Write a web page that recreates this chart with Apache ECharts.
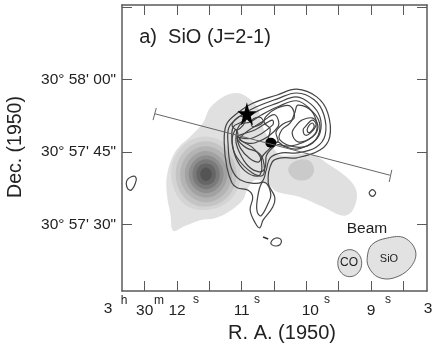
<!DOCTYPE html>
<html>
<head>
<meta charset="utf-8">
<style>
  html, body { margin: 0; padding: 0; background: #fff; }
  #chart { width: 438px; height: 346px; }
</style>
</head>
<body>
<div id="chart"></div>
<script src="https://cdn.jsdelivr.net/npm/echarts@6/dist/echarts.min.js"></script>
<script>
// all outlines are [R.A. seconds, Dec. arcsec past 30d 57m]
const raTicks = [12.5, 12, 11.5, 11, 10.5, 10, 9.5, 9, 8.5];
const raLabels = { 12.5: "30", 12: "12", 11: "11", 9.94: "10", 9: "9" };
const decTicks = [30, 45, 60, 75];
const decLabels = { 30: "30\u00b0 57' 30\"", 45: "30\u00b0 57' 45\"", 60: "30\u00b0 58' 00\"" };

// CO emission, grey levels
const coLow = [[11.07,57.2],[10.90,56.2],[10.75,54.1],[10.69,50.6],[10.56,47.5],[10.41,44.4],[9.94,44.6],[9.64,42.3],[9.33,39.2],[9.22,36.5],[9.28,33.0],[9.43,31.8],[9.74,33.6],[10.10,35.7],[10.45,36.7],[10.59,38.2],[10.79,39.2],[10.92,37.1],[10.98,35.1],[11.18,32.8],[11.41,31.3],[11.64,30.9],[11.88,29.7],[12.06,28.7],[12.10,32],[12.155,36.1],[12.155,40.2],[12.03,45.0],[11.77,48.5],[11.60,51.0],[11.49,54.1],[11.29,56.4]];
const coRightPeak = [[10.28,41.3],[10.19,43.0],[9.97,43.3],[9.88,41.3],[9.97,39.4],[10.18,39.4]];
const coBlob1 = [[12.09,40.6],[11.93,46.0],[11.55,48.2],[11.18,45.8],[11.02,40.4],[11.17,35.2],[11.55,33.0],[11.92,34.6]];
const coBlob2 = [[12.02,40.5],[11.88,45.2],[11.55,47.2],[11.22,45.0],[11.08,40.4],[11.21,35.8],[11.55,33.7],[11.88,35.5]];
const coBlob3 = [[11.95,40.4],[11.83,44.5],[11.55,46.2],[11.27,44.4],[11.15,40.4],[11.27,36.3],[11.55,34.6],[11.83,36.3]];
const coBlob4 = [[11.88,40.4],[11.78,43.8],[11.55,45.2],[11.32,43.7],[11.22,40.4],[11.32,37.0],[11.55,35.6],[11.78,37.0]];
const coBlob5 = [[11.82,40.4],[11.74,43.1],[11.55,44.3],[11.36,43.1],[11.28,40.4],[11.36,37.7],[11.55,36.5],[11.74,37.7]];
const coBlob6 = [[11.76,40.4],[11.70,42.6],[11.55,43.5],[11.40,42.6],[11.34,40.4],[11.40,38.2],[11.55,37.3],[11.70,38.2]];
const coBlob7 = [[11.70,40.4],[11.66,42.0],[11.55,42.6],[11.44,42.0],[11.40,40.4],[11.44,38.8],[11.55,38.2],[11.66,38.8]];
const coBlob8 = [[11.64,40.4],[11.61,41.4],[11.55,41.8],[11.49,41.4],[11.46,40.4],[11.49,39.4],[11.55,39.0],[11.61,39.4]];
const coBlobs = [coBlob1, coBlob2, coBlob3, coBlob4, coBlob5, coBlob6, coBlob7, coBlob8];
const coBlobColors = ["#d4d4d4", "#c4c4c4", "#b4b4b4", "#a2a2a2", "#8e8e8e", "#7a7a7a", "#666666", "#545454"];

// SiO contours
const sioA = [[10.83,55.1],[10.45,56.8],[10.15,58.0],[9.84,56.4],[9.67,53.1],[9.64,48.1],[9.79,45.4],[10.15,43.8],[10.38,43.8],[10.53,42.9],[10.59,38.6],[10.49,35.7],[10.52,33.6],[10.67,30.9],[10.72,29.3],[10.79,30.3],[10.87,33.0],[10.83,35.7],[10.90,37.1],[11.07,37.6],[11.15,38.6],[11.23,41.9],[11.27,46.9],[11.24,50.6],[11.10,52.7]];
const sioB = [[10.78,54.3],[10.45,56.0],[10.15,57.2],[9.88,55.8],[9.73,52.7],[9.71,48.5],[9.85,46.0],[10.15,44.8],[10.38,44.8],[10.56,43.8],[10.62,41.3],[10.69,38.8],[10.87,38.6],[11.06,39.6],[11.17,42.1],[11.21,46.5],[11.20,50.0],[11.07,52.0]];
const sioC = [[10.75,53.5],[10.45,55.1],[10.16,56.4],[9.93,54.9],[9.79,52.2],[9.79,48.9],[9.91,46.9],[10.15,45.6],[10.35,46.2],[10.45,47.1],[10.59,45.4],[10.69,43.8],[10.69,41.3],[10.75,40.0],[10.95,41.1],[11.09,43.8],[11.15,47.5],[11.13,50.2],[11.0,51.2]];
const sioC2 = [[10.69,52.7],[10.45,54.3],[10.16,55.6],[9.96,54.1],[9.85,51.6],[9.85,49.1],[9.98,47.5],[10.15,46.5],[10.30,46.2],[10.45,46.5],[10.56,45.4],[10.62,44.2],[10.64,41.7],[10.73,40.9],[10.90,42.1],[11.03,44.8],[11.09,47.5],[11.03,50.6],[10.87,51.2]];
const sioD1 = [[11.10,49.6],[11.15,46.9],[11.07,43.8],[10.84,40.7],[10.67,40.2],[10.67,43.4],[10.76,45.0],[10.92,45.8],[11.06,47.5],[11.06,48.9]];
const sioD2 = [[11.07,48.1],[11.02,45.8],[10.88,43.7],[10.74,42.9],[10.71,43.9],[10.84,46.0],[10.98,47.1]];
const sioD3 = [[11.15,50.6],[11.03,52.4],[10.94,51.6],[11.06,49.6]];
const sioE1 = [[11.07,48.1],[10.83,47.9],[10.52,50.6],[10.53,51.6],[10.79,49.6],[11.03,48.5]];
const sioE2 = [[11.03,47.5],[10.79,46.9],[10.44,50.2],[10.49,52.7],[10.69,51.2],[10.95,48.9]];
const sioE3 = [[10.84,51.6],[10.72,52.2],[10.67,51.2],[10.83,50.2]];
const sioMid = [[10.62,52.4],[10.45,54.1],[10.25,54.5],[10.19,52.0],[10.36,50.8],[10.47,49.1],[10.44,47.1],[10.59,47.1],[10.56,49.8],[10.65,51.0]];
const sioFinger = [[10.69,38.6],[10.76,35.1],[10.76,32.6],[10.70,31.8],[10.59,34.4],[10.55,36.1],[10.61,38.4]];
const sioR1 = [[10.13,54.7],[9.90,53.3],[9.79,50.2],[9.90,46.9],[10.15,46.0],[10.41,47.5],[10.38,49.6],[10.25,51.0],[10.18,53.1]];
const sioR2 = [[10.07,51.6],[9.90,52.0],[9.82,50.2],[9.91,48.1],[10.13,47.1],[10.22,48.9],[10.15,50.6]];
const sioR3 = [[10.02,50.2],[9.91,51.6],[9.85,50.6],[9.94,48.9],[10.02,48.5],[10.05,49.6]];
const sioR4 = [[9.98,50.0],[9.91,51.0],[9.88,50.2],[9.94,49.1],[9.98,49.1]];
const sioSmallEast = [[12.66,40.0],[12.63,39.2],[12.71,37.1],[12.77,37.6],[12.77,39.2]];
const sioSmallSouth = [[10.55,26.2],[10.47,27.2],[10.39,26.8],[10.41,25.8],[10.50,25.6]];
const sioSmallWest = [[8.98,37.2],[8.93,36.5],[8.98,35.8],[9.03,36.5]];
const sioContours = [sioA, sioB, sioC, sioC2, sioD1, sioD2, sioD3, sioE1, sioE2, sioE3, sioMid, sioFinger, sioR1, sioR2, sioR3, sioR4, sioSmallEast, sioSmallSouth, sioSmallWest];
const sioDash = [[10.67,27.4],[10.59,27.0]];

// outflow axis and end bars
const axisLine = [[12.34,52.9],[8.71,40.2]];
const axisEndEast = [[12.32,54.1],[12.37,51.6]];
const axisEndWest = [[8.68,41.3],[8.72,38.8]];

// beams
const beamCO = [[9.33,24.8],[9.20,24.0],[9.145,22.0],[9.20,20.0],[9.33,19.2],[9.46,20.0],[9.515,22.0],[9.46,24.0]];
const beamSiO = [[9.06,23.1],[8.99,25.8],[8.75,27.2],[8.48,27.2],[8.31,24.3],[8.40,21.0],[8.66,18.9],[8.89,19.1],[9.03,21.0]];

const starPos = [10.92, 52.9];
const dotPos = [10.55, 46.9];

const frameColor = "#5a5a5a";
const contourColor = "#444";
const textColor = "#222";
const fontFamily = "'Liberation Sans', Arial, sans-serif";

// closed outline, drawn once from the first row of its own data
const outline = (points, fill, stroke, lineWidth, smooth) => ({
  type: "custom",
  silent: true,
  data: points,
  encode: { x: 0, y: 1 },
  renderItem: (params, api) => {
    if (params.dataIndex !== 0) return null;
    return {
      type: "polygon",
      shape: { points: points.map(p => api.coord(p)), smooth: smooth },
      style: { fill: fill, stroke: stroke, lineWidth: lineWidth }
    };
  }
});

const straight = (points, color, lineWidth) => ({
  type: "line",
  silent: true,
  data: points,
  symbol: "none",
  lineStyle: { color: color, width: lineWidth }
});

const label = (text, x, y, size) => ({
  type: "text",
  x: x,
  y: y,
  z: 50,
  silent: true,
  style: { text: text, fill: textColor, font: size + "px " + fontFamily, align: "center", verticalAlign: "middle" }
});

const xBase = { type: "value", inverse: true, min: 8.136, max: 12.85, splitLine: { show: false } };
const yBase = { type: "value", min: 16.24, max: 75.41, splitLine: { show: false } };
const frameLine = { show: true, onZero: false, lineStyle: { color: frameColor, width: 1.5 } };
const frameTick = { show: true, inside: true, length: 10, lineStyle: { color: frameColor, width: 1 } };

const option = {
  animation: false,
  backgroundColor: "#fff",
  grid: { left: 122, right: 11, top: 5, bottom: 55 },
  xAxis: [
    Object.assign({}, xBase, {
      position: "bottom",
      axisLine: frameLine,
      axisTick: Object.assign({}, frameTick, { customValues: raTicks }),
      axisLabel: {
        customValues: Object.keys(raLabels).map(Number),
        formatter: v => raLabels[v],
        color: textColor,
        fontFamily: fontFamily,
        fontSize: 15.5,
        margin: 12
      }
    }),
    Object.assign({}, xBase, {
      position: "top",
      axisLine: frameLine,
      axisTick: Object.assign({}, frameTick, { customValues: raTicks }),
      axisLabel: { show: false }
    })
  ],
  yAxis: [
    Object.assign({}, yBase, {
      position: "left",
      axisLine: frameLine,
      axisTick: Object.assign({}, frameTick, { customValues: decTicks }),
      axisLabel: {
        customValues: Object.keys(decLabels).map(Number),
        formatter: v => decLabels[v],
        color: textColor,
        fontFamily: fontFamily,
        fontSize: 15.5,
        margin: 6,
        padding: [4, 0, 0, 0]
      }
    }),
    Object.assign({}, yBase, {
      position: "right",
      axisLine: frameLine,
      axisTick: Object.assign({}, frameTick, { customValues: decTicks }),
      axisLabel: { show: false }
    })
  ],
  series: [
    outline(coLow, "#e0e0e0", "none", 0, 0.35),
    outline(coRightPeak, "#cacaca", "none", 0, 0.4),
    ...coBlobs.map((points, i) => outline(points, coBlobColors[i], "none", 0, 0.38)),
    straight(axisLine, "#666", 1),
    straight(axisEndEast, "#666", 1),
    straight(axisEndWest, "#666", 1),
    ...sioContours.map(points => outline(points, "none", contourColor, 1.2, 0.38)),
    straight(sioDash, "#333", 1.5),
    outline(beamCO, "#e2e2e2", "#666", 1, 0.38),
    outline(beamSiO, "#e2e2e2", "#666", 1, 0.38),
    {
      type: "scatter",
      silent: true,
      data: [starPos],
      symbol: "path://M10 0L12.5 8.5L20 8.5L14 13L16.5 22L10 16.5L3.5 22L6 13L0 8.5L7.5 8.5Z",
      symbolSize: [19, 23],
      itemStyle: { color: "#000", opacity: 1 }
    },
    {
      type: "scatter",
      silent: true,
      data: [dotPos],
      symbol: "circle",
      symbolSize: [11, 10],
      itemStyle: { color: "#000", opacity: 1 }
    }
  ],
  graphic: [
    label("a)  SiO (J=2-1)", 205, 37, 20),
    label("R. A. (1950)", 282, 333, 20),
    label("Dec. (1950)", 16, 147, 19.5),
    label("Beam", 367, 229, 15.5),
    label("CO", 349, 263, 12),
    label("SiO", 389, 259, 11),
    label("3", 108, 309, 15.5),
    label("h", 124, 301, 12),
    label("m", 159, 301, 12),
    label("s", 196, 300, 12),
    label("s", 257, 300, 12),
    label("s", 327, 300, 12),
    label("s", 388, 300, 12),
    label("3", 428, 309, 15.5)
  ]
};
option.graphic[2].rotation = Math.PI / 2;

const chart = echarts.init(document.getElementById("chart"), null, { renderer: "canvas" });
chart.setOption(option);
window.addEventListener("resize", () => chart.resize());
</script>
</body>
</html>
